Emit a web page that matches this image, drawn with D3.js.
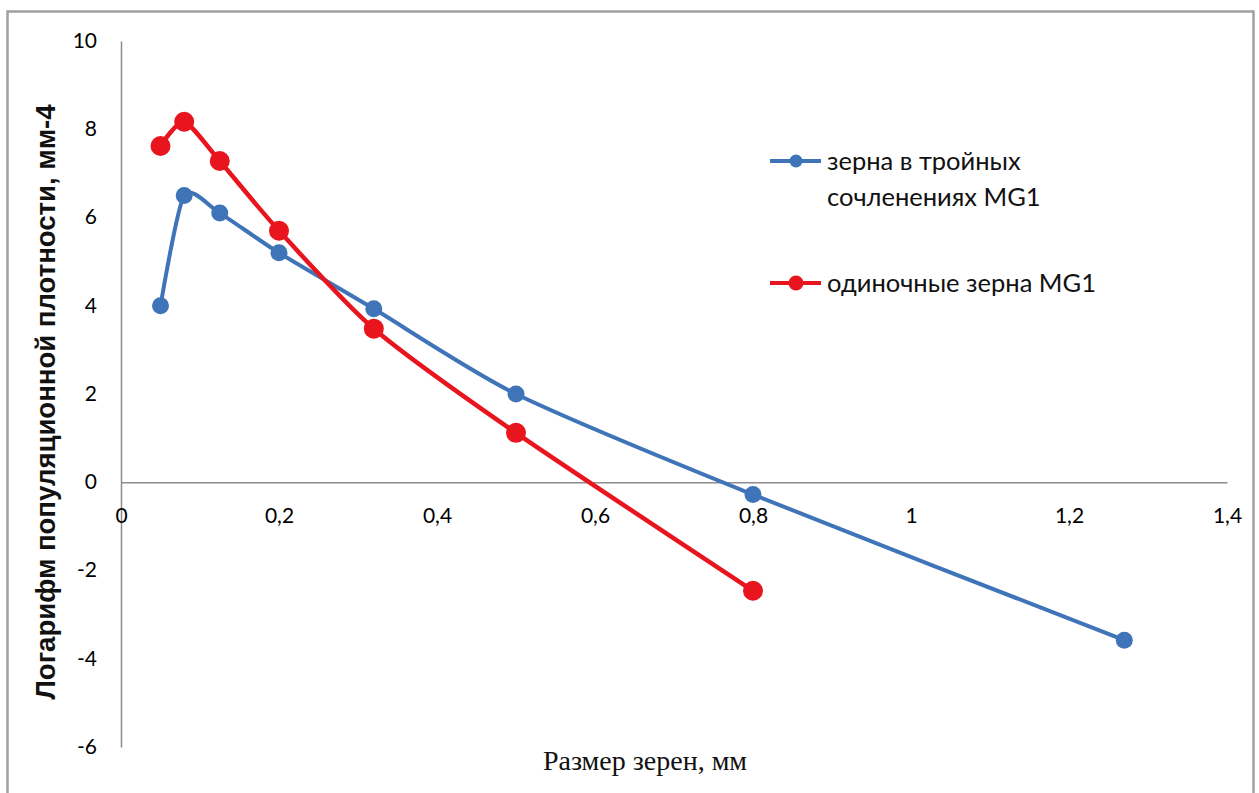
<!DOCTYPE html>
<html>
<head>
<meta charset="utf-8">
<script src="https://cdn.jsdelivr.net/npm/d3@7"></script>
<style>
  html, body { margin: 0; padding: 0; background: #fff; }
  svg { display: block; }
</style>
</head>
<body>
<svg id="chart" width="1259" height="793"></svg>
<script>
// Grain size classes, mm
const sizes = [0.05, 0.08, 0.125, 0.2, 0.32, 0.5, 0.8, 1.27];
// Log of population density, mm-4
const tripleJunctions = [4.0, 6.5, 6.1, 5.2, 3.93, 2.0, -0.28, -3.58];
const singleGrains = [7.62, 8.17, 7.28, 5.7, 3.48, 1.12, -2.46];

const seriesNames = ["зерна в тройных|сочленениях MG1", "одиночные зерна MG1"];
const xTicks = [0, 0.2, 0.4, 0.6, 0.8, 1, 1.2, 1.4];
const yTicks = [10, 8, 6, 4, 2, 0, -2, -4, -6];

const svg = d3.select("#chart");

const x = d3.scaleLinear().domain([0, 1.4]).range([121, 1227]);
const y = d3.scaleLinear().domain([-6, 10]).range([747, 41]);

const blue = "#3f74b8";
const red = "#e8151f";
const tickFont = "Lato, 'Open Sans', sans-serif";

// outer frame
svg.append("rect")
  .attr("x", 7.5).attr("y", 11.5)
  .attr("width", 1246).attr("height", 800)
  .attr("fill", "none").attr("stroke", "#a0a0a0").attr("stroke-width", 2.5);

// y axis (left spine with labels only)
const yAxis = d3.axisLeft(y).tickValues(yTicks).tickSize(0).tickPadding(24)
  .tickFormat(d => String(d));
const gy = svg.append("g").attr("transform", `translate(${x(0)},0)`).call(yAxis);
gy.select(".domain").attr("stroke", "#8c8c8c").attr("stroke-width", 1.5);
gy.selectAll("text").attr("font-family", tickFont).attr("font-size", 21)
  .attr("fill", "#000").attr("dy", "0.3em");

// x axis drawn through y = 0
const xAxis = d3.axisBottom(x).tickValues(xTicks).tickSize(0).tickPadding(26)
  .tickFormat(d => String(d).replace(".", ","));
const gx = svg.append("g").attr("transform", `translate(0,${y(0)})`).call(xAxis);
gx.select(".domain").attr("stroke", "#8c8c8c").attr("stroke-width", 1.5);
gx.selectAll("text").attr("font-family", tickFont).attr("font-size", 21)
  .attr("fill", "#000");

// axis titles
svg.append("text")
  .attr("x", 645).attr("y", 770)
  .attr("text-anchor", "middle")
  .attr("font-family", "'Liberation Serif', 'DejaVu Serif', serif")
  .attr("font-size", 28).attr("fill", "#111")
  .text("Размер зерен, мм");

svg.append("text")
  .attr("transform", "translate(55,402) rotate(-90)")
  .attr("text-anchor", "middle")
  .attr("font-family", "'Liberation Sans Narrow', 'Liberation Sans', sans-serif")
  .attr("font-weight", "bold")
  .attr("font-size", 27).attr("fill", "#111")
  .attr("textLength", 595).attr("lengthAdjust", "spacingAndGlyphs")
  .text("Логарифм популяционной плотности,  мм-4");

// series
const line = d3.line()
  .x(d => x(d[0])).y(d => y(d[1]))
  .curve(d3.curveCardinal.tension(0.3));

const blueData = sizes.map((s, i) => [s, tripleJunctions[i]]);
const redData = singleGrains.map((v, i) => [sizes[i], v]);

svg.append("path").datum(blueData)
  .attr("d", line).attr("fill", "none")
  .attr("stroke", blue).attr("stroke-width", 4).attr("stroke-linejoin", "round");
svg.append("g").selectAll("circle").data(blueData).join("circle")
  .attr("cx", d => x(d[0])).attr("cy", d => y(d[1])).attr("r", 8.5)
  .attr("fill", blue);

svg.append("path").datum(redData)
  .attr("d", line).attr("fill", "none")
  .attr("stroke", red).attr("stroke-width", 4.5).attr("stroke-linejoin", "round");
svg.append("g").selectAll("circle").data(redData).join("circle")
  .attr("cx", d => x(d[0])).attr("cy", d => y(d[1])).attr("r", 10)
  .attr("fill", red);

// legend
const legendRows = [
  { name: seriesNames[0], color: blue, y: 161, r: 6.5 },
  { name: seriesNames[1], color: red, y: 283, r: 7.5 }
];
const lg = svg.append("g");
legendRows.forEach(row => {
  lg.append("line")
    .attr("x1", 770).attr("x2", 821).attr("y1", row.y).attr("y2", row.y)
    .attr("stroke", row.color).attr("stroke-width", 4);
  lg.append("circle").attr("cx", 796).attr("cy", row.y).attr("r", row.r)
    .attr("fill", row.color);
  const t = lg.append("text")
    .attr("x", 827).attr("y", row.y + 9)
    .attr("font-family", tickFont).attr("font-size", 25.5).attr("fill", "#111");
  row.name.split("|").forEach((part, i) => {
    t.append("tspan").attr("x", 827).attr("dy", i === 0 ? 0 : 36).text(part);
  });
});
</script>
</body>
</html>
